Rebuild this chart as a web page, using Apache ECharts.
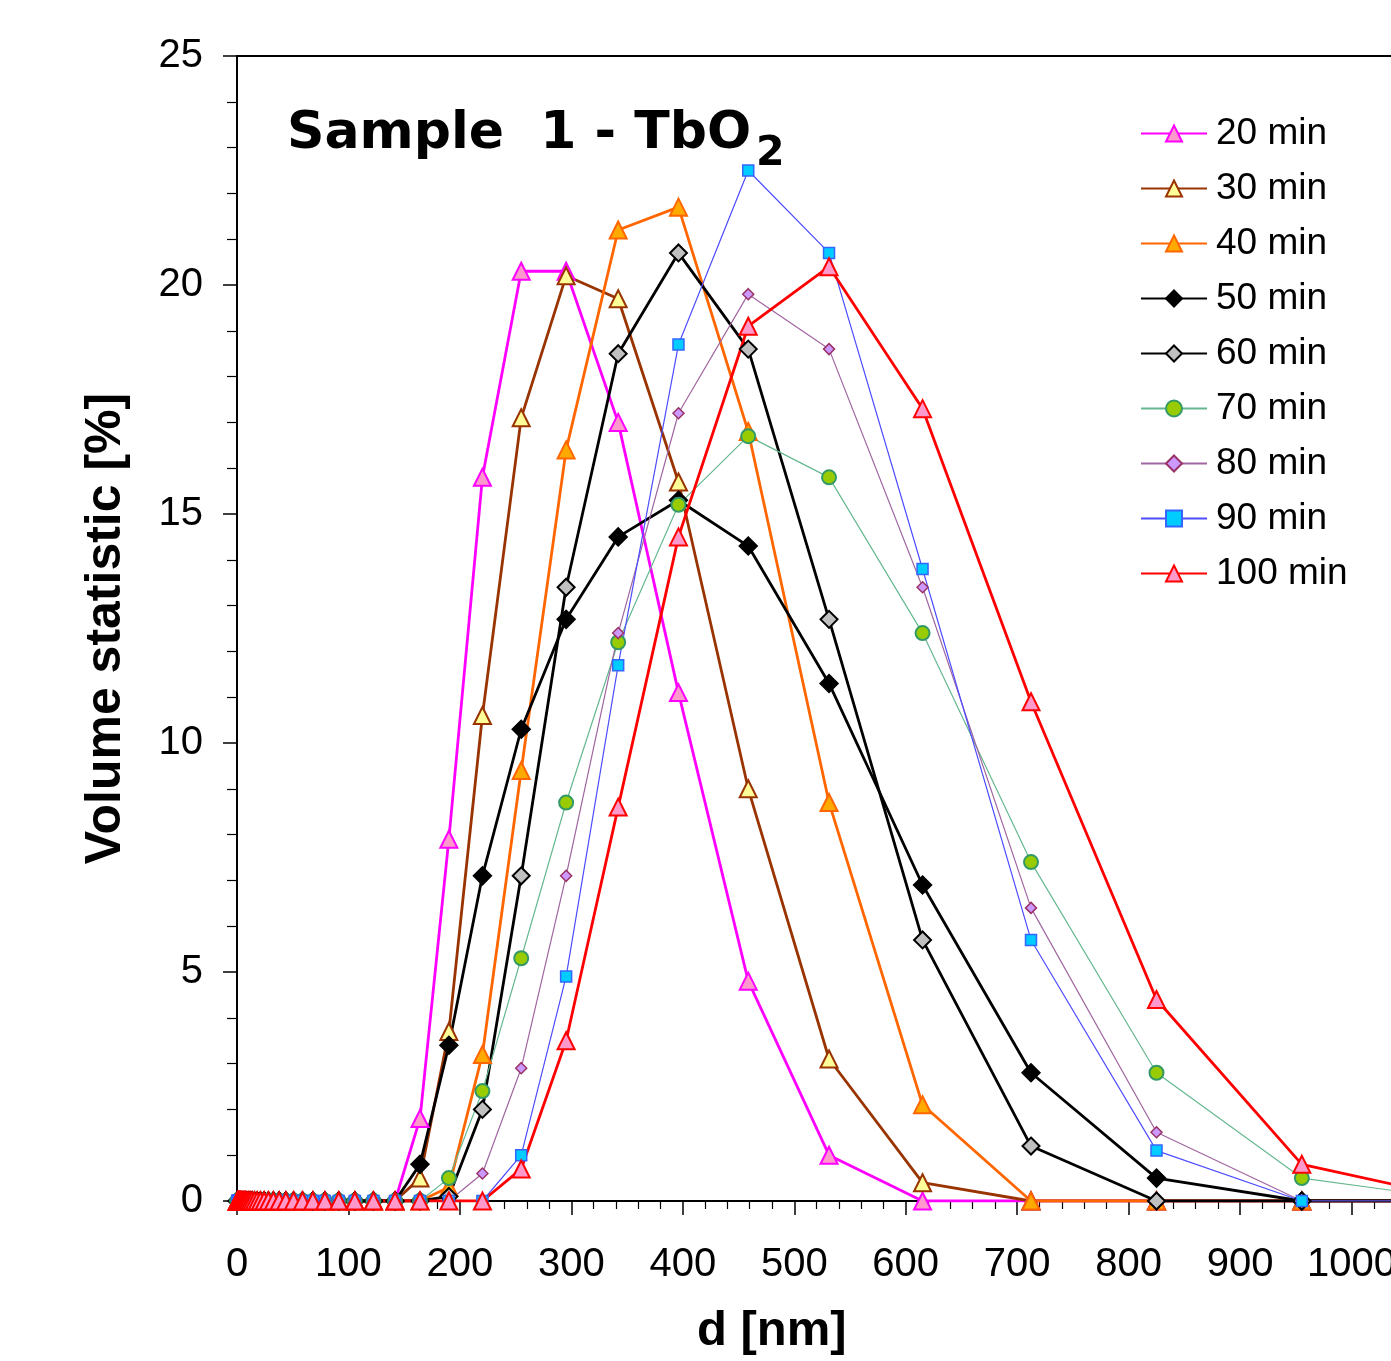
<!DOCTYPE html>
<html>
<head>
<meta charset="utf-8">
<script src="https://cdn.jsdelivr.net/npm/echarts@6/dist/echarts.min.js"></script>
<style>html,body{margin:0;padding:0;background:#fff}#c{width:1391px;height:1361px}</style>
</head>
<body>
<div id="c"></div>
<script>
// Size bins d [nm]
const sizes = [0.4, 0.4632, 0.5365, 0.6213, 0.7195, 0.8332, 0.9649, 1.117, 1.294, 1.499,
  1.736, 2.010, 2.328, 2.696, 3.122, 3.615, 4.187, 4.849, 5.615, 6.503,
  7.531, 8.721, 10.10, 11.70, 13.54, 15.69, 18.17, 21.04, 24.36, 28.21,
  32.67, 37.84, 43.82, 50.75, 58.77, 68.06, 78.82, 91.28, 105.7, 122.4,
  141.8, 164.2, 190.1, 220.2, 255.0, 295.3, 342.0, 396.1, 458.7, 531.2,
  615.1, 712.4, 825.0, 955.4, 1106];

const seriesNames = ['20 min', '30 min', '40 min', '50 min', '60 min', '70 min', '80 min', '90 min', '100 min'];

const v20  = [0,0,0,0,0,0,0,0,0,0, 0,0,0,0,0,0,0,0,0,0, 0,0,0,0,0,0,0,0,0,0, 0,0,0,0,0,0,0,0,0,0,
  0, 1.8, 7.9, 15.8, 20.3, 20.3, 17.0, 11.1, 4.8, 1.0, 0, 0, 0, 0, 0];
const v30  = [0,0,0,0,0,0,0,0,0,0, 0,0,0,0,0,0,0,0,0,0, 0,0,0,0,0,0,0,0,0,0, 0,0,0,0,0,0,0,0,0,0,
  0, 0.5, 3.7, 10.6, 17.1, 20.2, 19.7, 15.7, 9.0, 3.1, 0.4, 0, 0, 0, 0];
const v40  = [0,0,0,0,0,0,0,0,0,0, 0,0,0,0,0,0,0,0,0,0, 0,0,0,0,0,0,0,0,0,0, 0,0,0,0,0,0,0,0,0,0,
  0, 0, 0.3, 3.2, 9.4, 16.4, 21.2, 21.7, 16.8, 8.7, 2.1, 0, 0, 0, 0];
const v50  = [0,0,0,0,0,0,0,0,0,0, 0,0,0,0,0,0,0,0,0,0, 0,0,0,0,0,0,0,0,0,0, 0,0,0,0,0,0,0,0,0,0,
  0, 0.8, 3.4, 7.1, 10.3, 12.7, 14.5, 15.3, 14.3, 11.3, 6.9, 2.8, 0.5, 0, 0];
const v60  = [0,0,0,0,0,0,0,0,0,0, 0,0,0,0,0,0,0,0,0,0, 0,0,0,0,0,0,0,0,0,0, 0,0,0,0,0,0,0,0,0,0,
  0, 0, 0.1, 2.0, 7.1, 13.4, 18.5, 20.7, 18.6, 12.7, 5.7, 1.2, 0, 0, 0];
const v70  = [0,0,0,0,0,0,0,0,0,0, 0,0,0,0,0,0,0,0,0,0, 0,0,0,0,0,0,0,0,0,0, 0,0,0,0,0,0,0,0,0,0,
  0, 0, 0.5, 2.4, 5.3, 8.7, 12.2, 15.2, 16.7, 15.8, 12.4, 7.4, 2.8, 0.5, 0];
const v80  = [0,0,0,0,0,0,0,0,0,0, 0,0,0,0,0,0,0,0,0,0, 0,0,0,0,0,0,0,0,0,0, 0,0,0,0,0,0,0,0,0,0,
  0, 0, 0, 0.6, 2.9, 7.1, 12.4, 17.2, 19.8, 18.6, 13.4, 6.4, 1.5, 0, 0];
const v90  = [0,0,0,0,0,0,0,0,0,0, 0,0,0,0,0,0,0,0,0,0, 0,0,0,0,0,0,0,0,0,0, 0,0,0,0,0,0,0,0,0,0,
  0, 0, 0, 0, 1.0, 4.9, 11.7, 18.7, 22.5, 20.7, 13.8, 5.7, 1.1, 0, 0];
const v100 = [0,0,0,0,0,0,0,0,0,0, 0,0,0,0,0,0,0,0,0,0, 0,0,0,0,0,0,0,0,0,0, 0,0,0,0,0,0,0,0,0,0,
  0, 0, 0, 0, 0.7, 3.5, 8.6, 14.5, 19.1, 20.4, 17.3, 10.9, 4.4, 0.8, 0];

const values = [v20, v30, v40, v50, v60, v70, v80, v90, v100];

const styles = [
  {line: '#FF00FF', w: 2.8, sym: 'triangle', size: 17, fill: '#FF99CC', border: '#FF00FF', bw: 2},
  {line: '#993300', w: 2.8, sym: 'triangle', size: 17, fill: '#FFFF99', border: '#993300', bw: 2},
  {line: '#FF6600', w: 2.8, sym: 'triangle', size: 17, fill: '#FFAA00', border: '#FF6600', bw: 2},
  {line: '#000000', w: 2.8, sym: 'diamond',  size: 18, fill: '#000000', border: '#000000', bw: 1.5},
  {line: '#000000', w: 2.8, sym: 'diamond',  size: 17, fill: '#C0C0C0', border: '#000000', bw: 2},
  {line: '#66B890', w: 1.2, sym: 'circle',   size: 14, fill: '#99CC00', border: '#339966', bw: 2},
  {line: '#A066A0', w: 1.2, sym: 'diamond',  size: 11, fill: '#CC99FF', border: '#993366', bw: 1.5},
  {line: '#4D4DFF', w: 1.2, sym: 'rect',     size: 11, fill: '#00CCFF', border: '#3366FF', bw: 1.5},
  {line: '#FF0000', w: 2.8, sym: 'triangle', size: 17, fill: '#FF99CC', border: '#FF0000', bw: 2}
];

const series = seriesNames.map((name, k) => ({
  name: name,
  type: 'line',
  data: sizes.map((d, i) => [d, values[k][i]]),
  symbol: styles[k].sym,
  symbolSize: styles[k].size,
  showAllSymbol: true,
  lineStyle: {color: styles[k].line, width: styles[k].w},
  itemStyle: {color: styles[k].fill, borderColor: styles[k].border, borderWidth: styles[k].bw},
  emphasis: {disabled: true},
  animation: false
}));

const chart = echarts.init(document.getElementById('c'), null, {renderer: 'canvas'});
chart.setOption({
  backgroundColor: '#ffffff',
  animation: false,
  grid: {left: 237, top: 56, width: 1226, height: 1145, show: true, borderColor: '#000', borderWidth: 2,
         containLabel: false, outerBoundsMode: 'none'},
  legend: {
    data: seriesNames,
    orient: 'vertical',
    left: 1140,
    top: 115,
    padding: 0,
    itemWidth: 66,
    itemHeight: 20,
    itemGap: 18,
    textStyle: {fontFamily: 'Liberation Sans', fontSize: 37, color: '#000', padding: [0, 0, 0, 4]}
  },
  xAxis: {
    type: 'value',
    min: 0, max: 1100, interval: 100,
    axisLine: {lineStyle: {color: '#000', width: 2}},
    axisTick: {show: true, length: 14, lineStyle: {color: '#000', width: 1.5}},
    minorTick: {show: true, splitNumber: 5, length: 8, lineStyle: {color: '#000', width: 1.2}},
    splitLine: {show: false},
    axisLabel: {fontFamily: 'Liberation Sans', fontSize: 40, color: '#000', margin: 44, formatter: v => String(v)}
  },
  yAxis: {
    type: 'value',
    min: 0, max: 25, interval: 5,
    name: 'Volume statistic [%]',
    nameLocation: 'middle',
    nameGap: 106,
    nameTextStyle: {fontFamily: 'Liberation Sans', fontWeight: 'bold', fontSize: 50, color: '#000'},
    axisLine: {lineStyle: {color: '#000', width: 2}},
    axisTick: {show: true, length: 14, lineStyle: {color: '#000', width: 1.5}},
    minorTick: {show: true, splitNumber: 5, length: 10, lineStyle: {color: '#000', width: 1.2}},
    splitLine: {show: false},
    axisLabel: {fontFamily: 'Liberation Sans', fontSize: 40, color: '#000', margin: 34}
  },
  graphic: [
    {type: 'text', left: 287, top: 108, style: {text: 'Sample  1 - TbO', font: 'bold 52px "DejaVu Sans"', fill: '#000'}},
    {type: 'text', left: 756, top: 134, style: {text: '2', font: 'bold 41px "DejaVu Sans"', fill: '#000'}},
    {type: 'text', left: 697, top: 1307, style: {text: 'd [nm]', font: 'bold 49px "Liberation Sans"', fill: '#000'}}
  ],
  series: series
});
</script>
</body>
</html>
